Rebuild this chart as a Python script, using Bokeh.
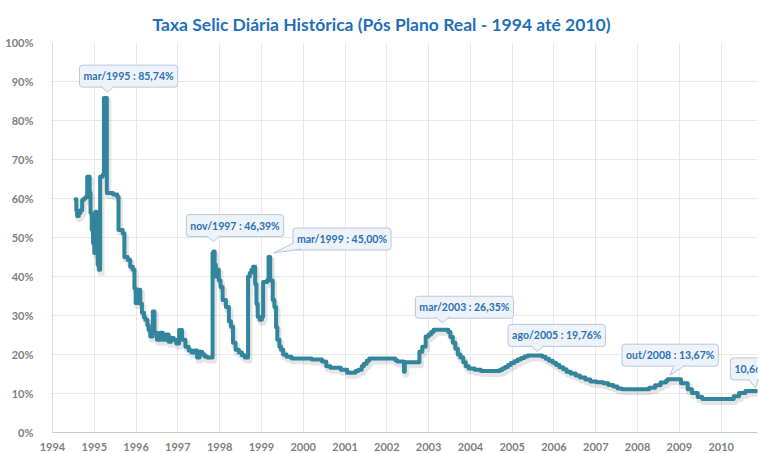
import numpy as np
from bokeh.plotting import figure
from bokeh.models import Range1d, FixedTicker, PrintfTickFormatter, Label
from bokeh.embed import file_html
from bokeh.resources import INLINE

# ---------------- data ----------------
dates = [1994.55, 1994.57, 1994.59, 1994.63, 1994.67, 1994.71, 1994.75, 1994.79, 1994.83, 1994.89,
         1994.91, 1994.94, 1994.97, 1995.00, 1995.03, 1995.05, 1995.08, 1995.11, 1995.14, 1995.20,
         1995.23, 1995.30, 1995.45, 1995.55, 1995.58, 1995.68, 1995.72, 1995.80, 1995.86, 1995.92,
         1995.96, 1995.99, 1996.03, 1996.06, 1996.10, 1996.14, 1996.19, 1996.22, 1996.27, 1996.30,
         1996.34, 1996.40, 1996.44, 1996.50, 1996.58, 1996.64, 1996.72, 1996.78, 1996.84, 1996.90,
         1996.96, 1997.03, 1997.10, 1997.18, 1997.26, 1997.33, 1997.40, 1997.46, 1997.52, 1997.58,
         1997.64, 1997.70, 1997.83, 1997.85, 1997.88, 1997.91, 1997.94, 1997.98, 1998.02, 1998.07,
         1998.15, 1998.22, 1998.27, 1998.32, 1998.38, 1998.46, 1998.53, 1998.60, 1998.68, 1998.72,
         1998.76, 1998.80, 1998.85, 1998.88, 1998.91, 1998.96, 1999.01, 1999.04, 1999.14, 1999.17,
         1999.21, 1999.27, 1999.31, 1999.35, 1999.38, 1999.43, 1999.47, 1999.52, 1999.60, 1999.72,
         2000.20, 2000.45, 2000.55, 2000.65, 2000.90, 2001.05, 2001.25, 2001.32, 2001.40, 2001.45,
         2001.52, 2001.58, 2002.20, 2002.25, 2002.41, 2002.43, 2002.78, 2002.85, 2002.93, 2003.00,
         2003.06, 2003.12, 2003.47, 2003.52, 2003.58, 2003.64, 2003.70, 2003.76, 2003.83, 2003.89,
         2003.96, 2004.10, 2004.25, 2004.70, 2004.76, 2004.83, 2004.90, 2004.97, 2005.05, 2005.13,
         2005.21, 2005.29, 2005.37, 2005.72, 2005.80, 2005.88, 2005.97, 2006.05, 2006.13, 2006.22,
         2006.30, 2006.40, 2006.52, 2006.62, 2006.75, 2006.87, 2007.02, 2007.18, 2007.30, 2007.42,
         2007.52, 2007.62, 2008.28, 2008.42, 2008.55, 2008.68, 2008.72, 2009.04, 2009.20, 2009.30,
         2009.44, 2009.55, 2010.30, 2010.43, 2010.58, 2010.87]
rates = [59.8, 57.0, 55.5, 56.3, 57.0, 59.6, 60.0, 60.4, 65.6, 61.5,
         56.3, 52.0, 48.6, 46.0, 56.6, 47.0, 43.0, 41.7, 65.6, 66.0,
         85.74, 61.4, 61.0, 60.4, 51.9, 51.0, 45.0, 44.2, 42.5, 41.7,
         37.0, 33.2, 35.0, 36.6, 33.0, 30.7, 29.5, 28.9, 27.5, 26.3,
         24.6, 31.0, 25.6, 23.8, 25.6, 23.8, 25.1, 23.3, 24.2, 23.8,
         22.8, 26.3, 23.8, 22.0, 21.0, 20.5, 21.0, 19.2, 20.7, 20.0,
         19.5, 19.2, 46.0, 46.39, 43.0, 40.0, 41.7, 39.0, 37.3, 34.0,
         32.2, 28.5, 27.1, 23.0, 21.2, 20.5, 19.8, 19.2, 40.0, 40.9,
         41.7, 42.5, 38.0, 33.0, 29.7, 28.9, 29.7, 38.6, 39.1, 45.0,
         39.0, 34.0, 32.2, 27.0, 23.8, 22.0, 21.2, 20.0, 19.4, 19.0,
         18.7, 18.2, 17.0, 16.6, 16.1, 15.3, 15.8, 16.1, 17.0, 17.6,
         18.4, 19.0, 18.5, 18.2, 15.6, 18.0, 20.7, 22.0, 24.6, 25.1,
         25.8, 26.35, 25.8, 24.5, 23.0, 21.5, 20.0, 19.2, 18.0, 17.0,
         16.4, 16.1, 15.8, 16.0, 16.4, 16.8, 17.3, 17.8, 18.3, 18.7,
         19.1, 19.5, 19.76, 19.4, 18.9, 18.4, 17.9, 17.3, 16.7, 16.2,
         15.6, 15.1, 14.6, 14.1, 13.6, 13.1, 12.9, 12.6, 12.2, 11.8,
         11.3, 11.1, 11.5, 12.1, 12.8, 13.3, 13.67, 12.6, 11.1, 10.1,
         9.1, 8.6, 9.3, 10.1, 10.66, 10.66]

year_ticks = list(range(1994, 2011))
pct_ticks = list(range(0, 101, 10))

callout_texts = ["mar/1995 : 85,74%", "nov/1997 : 46,39%", "mar/1999 : 45,00%",
                 "mar/2003 : 26,35%", "ago/2005 : 19,76%", "out/2008 : 13,67%", "10,66%"]
callout_dates = [1995.27, 1997.85, 1999.19, 2003.33, 2005.60, 2008.78, 2010.82]
callout_values = [85.74, 46.39, 45.00, 26.35, 19.76, 13.67, 10.66]

title_text = "Taxa Selic Diária Histórica (Pós Plano Real - 1994 até 2010)"

# ---------------- layout / style ----------------
W, H = 761, 453
B_LEFT, B_RIGHT, B_TOP, B_BOTTOM = 52, 4, 42, 21
X0, X1 = 1994, 2010.87
FRAME_W, FRAME_H = W - B_LEFT - B_RIGHT, H - B_TOP - B_BOTTOM
PPX = FRAME_W / (X1 - X0)
PPY = FRAME_H / 100.0

LINE_COLOR = "#31859C"
BOX_FILL = "#EEF3FA"
BOX_LINE = "#B4C8DF"
BOX_TEXT = "#2A72B5"
FONT = "Lato"

p = figure(width=W, height=H, x_range=Range1d(X0, X1), y_range=Range1d(0, 100),
           output_backend="svg", toolbar_location=None,
           min_border_left=B_LEFT, min_border_right=B_RIGHT,
           min_border_top=B_TOP, min_border_bottom=B_BOTTOM)
p.outline_line_color = None
p.background_fill_color = "white"

p.title.text = title_text
p.title.align = "left"
p.title.offset = 100
p.title.standoff = 16
p.title.text_font = FONT
p.title.text_font_style = "bold"
p.title.text_font_size = "17.5px"
p.title.text_color = "#1F70BC"

for ax in (p.xaxis[0], p.yaxis[0]):
    ax.major_tick_line_color = None
    ax.minor_tick_line_color = None
    ax.major_label_text_color = "#7F7F7F"
    ax.major_label_text_font = FONT
    ax.major_label_text_font_size = "11px"
    ax.major_label_text_font_style = "bold"

p.xaxis[0].ticker = FixedTicker(ticks=year_ticks)
p.xaxis[0].formatter = PrintfTickFormatter(format="%d")
p.xaxis[0].axis_line_color = "#C8C8C8"
p.xaxis[0].major_label_standoff = 4
p.yaxis[0].ticker = FixedTicker(ticks=pct_ticks)
p.yaxis[0].formatter = PrintfTickFormatter(format="%d%%")
p.yaxis[0].axis_line_color = "#DADADA"
p.yaxis[0].major_label_standoff = 13

p.xgrid[0].grid_line_color = "#E8E8E8"
p.ygrid[0].grid_line_color = "#E8E8E8"

d = np.array(dates)
r = np.array(rates)

# soft shadow
p.step(d + 1.5 / PPX, r - 3.0 / PPY, mode="after", line_width=6, color="#000000",
       line_alpha=0.10, line_join="round")
p.step(d, r, mode="after", line_width=4, color=LINE_COLOR, line_join="round", line_cap="round")

# ---------------- callouts (offsets in screen px, +dy is downward) ----------------
box_off = [(23, -22), (21.6, -26), (72.6, -18), (22, -22.5), (19.5, -20), (0, -24), (-25, -22)]
ptr_off = [[(2, -6), (-5, -12), (9, -12)],
           [(0, -10), (-7, -16), (7, -16)],
           [(4, -4), (24, -14), (32, -8)],
           [(0, -7), (-7, -13), (7, -13)],
           [(0, -4), (-7, -10), (7, -10)],
           [(0, -4), (4, -14), (15, -14)],
           [(0, -3), (-7, -12), (3, -12)]]
aligns = ["center"] * 6 + ["left"]

px_, py_, sx_, sy_ = [], [], [], []
for t, dt, v, (bx, by), pts, al in zip(callout_texts, callout_dates, callout_values,
                                       box_off, ptr_off, aligns):
    lab = Label(x=dt + bx / PPX, y=v - by / PPY, text=t, text_align=al,
                text_baseline="middle", text_font=FONT, text_font_style="bold",
                text_font_size="10.5px", text_color=BOX_TEXT,
                padding=dict(left=4, right=4, top=5, bottom=5),
                background_fill_color=BOX_FILL, border_line_color=BOX_LINE,
                border_line_width=1, border_radius=3)
    p.add_layout(lab)
    xs = [dt + a / PPX for a, b in pts]
    ys = [v - b / PPY for a, b in pts]
    px_.append(xs)
    py_.append(ys)
    sx_.append([xs[1], xs[0], xs[2]])
    sy_.append([ys[1], ys[0], ys[2]])

p.patches(px_, py_, fill_color=BOX_FILL, line_color=None, level="overlay")
p.multi_line(sx_, sy_, line_color=BOX_LINE, line_width=1, level="overlay")

open("out.html", "w").write(file_html(p, INLINE))
